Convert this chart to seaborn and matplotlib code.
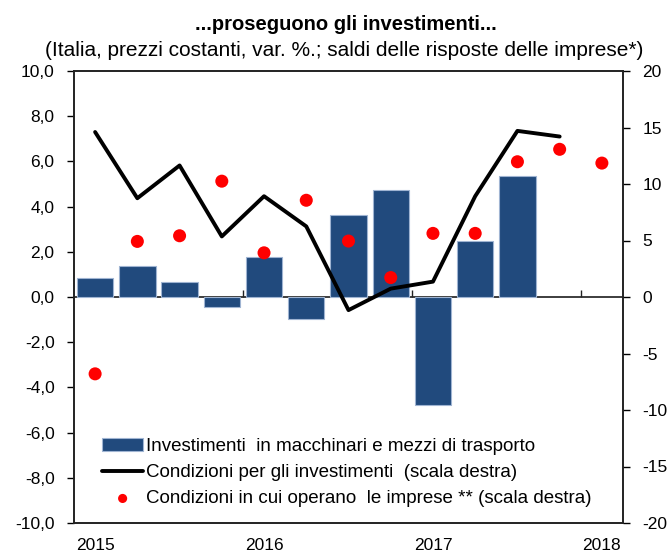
import numpy as np
import pandas as pd
import matplotlib
matplotlib.use("Agg")
import matplotlib.pyplot as plt
import seaborn as sns
from matplotlib.ticker import FuncFormatter

sns.set_theme(style="white")
plt.rcParams['font.family'] = ['Liberation Sans', 'DejaVu Sans']

# ---- data ----
quarters = ["2015Q1", "2015Q2", "2015Q3", "2015Q4",
            "2016Q1", "2016Q2", "2016Q3", "2016Q4",
            "2017Q1", "2017Q2", "2017Q3", "2017Q4", "2018Q1"]
investimenti = [0.85, 1.38, 0.65, -0.44, 1.75, -0.96, 3.62, 4.73, -4.77, 2.46, 5.36,
                np.nan, np.nan]
condizioni_inv = [14.6, 8.74, 11.64, 5.36, 8.92, 6.25, -1.16, 0.74, 1.36, 8.92, 14.7, 14.2,
                  np.nan]
condizioni_imprese = [-6.8, 4.92, 5.42, 10.25, 3.91, 8.56, 4.95, 1.72, 5.63, 5.63, 11.97,
                      13.07, 11.85]
year_labels = ["2015", "2016", "2017", "2018"]
left_ticks = [-10, -8, -6, -4, -2, 0, 2, 4, 6, 8, 10]
right_ticks = [-20, -15, -10, -5, 0, 5, 10, 15, 20]

lbl_bar = "Investimenti  in macchinari e mezzi di trasporto"
lbl_line = "Condizioni per gli investimenti  (scala destra)"
lbl_dot = "Condizioni in cui operano  le imprese ** (scala destra)"

df = pd.DataFrame({"q": quarters, "pos": np.arange(len(quarters)),
                   "inv": investimenti, "cinv": condizioni_inv,
                   "cimp": condizioni_imprese})

W, H = 670, 555
fig = plt.figure(figsize=(W / 100, H / 100), dpi=100)
ax = fig.add_axes([74 / W, 1 - 523 / H, (623 - 74) / W, (523 - 71) / H])

sns.barplot(data=df, x="pos", y="inv", native_scale=True, ax=ax, color="#214A7D",
            saturation=1, width=0.86, edgecolor="#9fb4d2", linewidth=0.8, label=lbl_bar)

ax2 = ax.twinx()
sns.lineplot(data=df, x="pos", y="cinv", ax=ax2, color="black", linewidth=2.8,
             label=lbl_line, legend=False)
sns.scatterplot(data=df, x="pos", y="cimp", ax=ax2, color="#FF0000", s=88,
                edgecolor="none", label=lbl_dot, legend=False, zorder=5)

ax.set_xlim(-0.5, len(quarters) - 0.5)
ax.set_ylim(-10, 10)
ax2.set_ylim(-20, 20)
ax.set_yticks(left_ticks)
ax.yaxis.set_major_formatter(FuncFormatter(lambda v, p: f"{v:.1f}".replace(".", ",")))
ax2.set_yticks(right_ticks)
ax2.set_yticklabels([str(t) for t in right_ticks])
ax.set_xlabel("")
ax.set_ylabel("")
ax2.set_xlabel("")
ax2.set_ylabel("")

ax.set_xticks([0, 4, 8, 12])
ax.set_xticklabels(year_labels)
ax.tick_params(axis="x", length=0, pad=11, labelsize=12.5, colors="black")
ax.tick_params(axis="y", direction="out", length=5, width=1, labelsize=12.5,
               colors="black", left=True, pad=9)
ax2.tick_params(axis="y", direction="out", length=5, width=1, labelsize=12.5,
                colors="black", right=True, pad=9)

for a in (ax, ax2):
    for s in a.spines.values():
        s.set_color("#222222")
        s.set_linewidth(1.2)
        s.set_visible(True)

# zero line with boundary ticks
sec = ax.secondary_xaxis(0.5)
sec.set_xticks([3.5, 7.5, 11.5])
sec.set_xticklabels(["", "", ""])
sec.tick_params(axis="x", direction="out", length=5, width=1, colors="#222222")
sec.spines["bottom"].set_color("#333333")
sec.spines["bottom"].set_linewidth(1.0)

h1, l1 = ax.get_legend_handles_labels()
h2, l2 = ax2.get_legend_handles_labels()
if ax.get_legend():
    ax.get_legend().remove()
leg = ax2.legend(h1 + h2, l1 + l2, loc="upper left",
                 bbox_to_anchor=(102 / W, 1 - 438 / H), bbox_transform=fig.transFigure,
                 frameon=False, fontsize=13.5, handlelength=2.2, handleheight=0.7,
                 handletextpad=0.15, labelspacing=0.48, borderaxespad=0, borderpad=0,
                 markerscale=0.7)
for t in leg.get_texts():
    t.set_color("black")

fig.text(346 / W, 1 - 24 / H, "...proseguono gli investimenti...", ha="center", va="center",
         fontsize=14.5, fontweight="bold", color="black")
fig.text(344.5 / W, 1 - 50 / H,
         "(Italia, prezzi costanti, var. %.; saldi delle risposte delle imprese*)",
         ha="center", va="center", fontsize=15, color="black")

fig.savefig("out.png", dpi=100)
